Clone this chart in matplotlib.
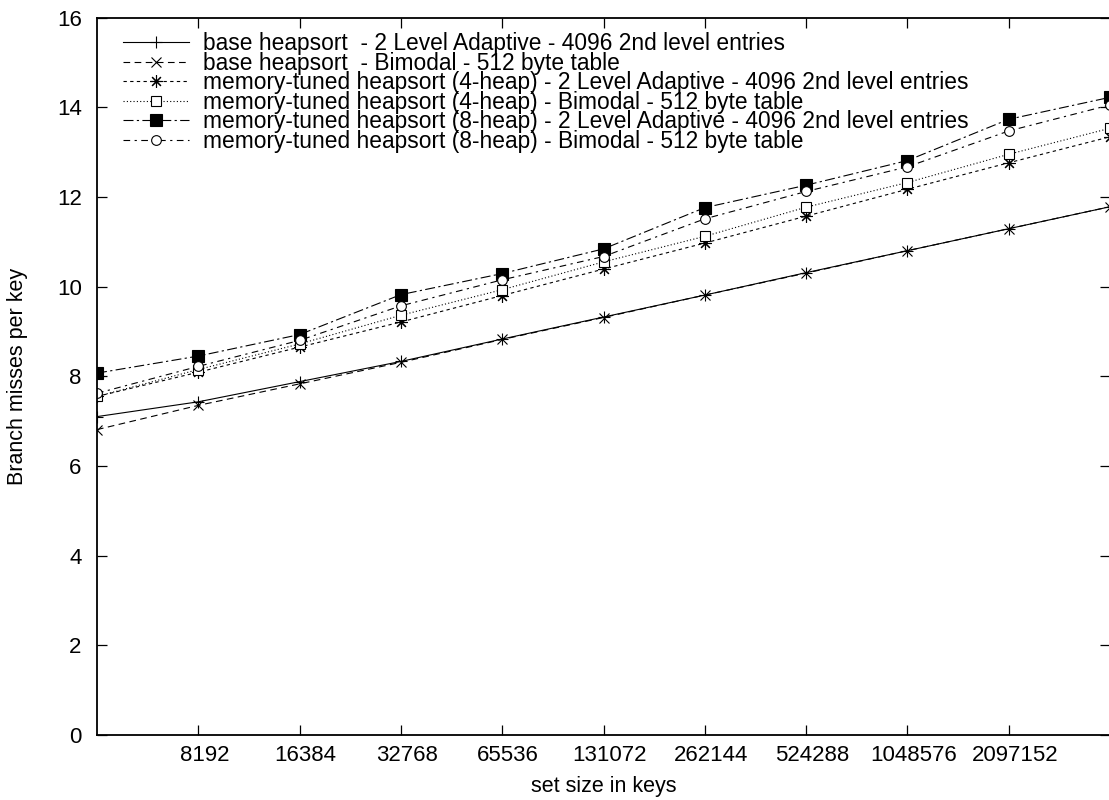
import matplotlib
matplotlib.use('Agg')
import matplotlib.pyplot as plt
import matplotlib.transforms as mtransforms
from matplotlib.ticker import FixedLocator, NullLocator, NullFormatter

plt.rcParams['font.family'] = ['Liberation Sans', 'DejaVu Sans']

# set sizes (keys), powers of two from 4096 up to 4M
set_sizes = [4096, 8192, 16384, 32768, 65536, 131072, 262144,
             524288, 1048576, 2097152, 4194304]
tick_sizes = [8192, 16384, 32768, 65536, 131072, 262144,
              524288, 1048576, 2097152]

# branch misses per key for each heapsort / predictor combination
base_2lev = [7.10, 7.43, 7.88, 8.33, 8.83, 9.32, 9.81, 10.31, 10.80, 11.29, 11.78]
base_bimodal = [6.81, 7.35, 7.83, 8.31, 8.82, 9.31, 9.81, 10.30, 10.80, 11.29, 11.78]
heap4_2lev = [7.55, 8.09, 8.65, 9.21, 9.80, 10.39, 10.97, 11.57, 12.17, 12.76, 13.34]
heap4_bimodal = [7.55, 8.15, 8.72, 9.36, 9.93, 10.55, 11.12, 11.77, 12.32, 12.95, 13.53]
heap8_2lev = [8.07, 8.45, 8.93, 9.82, 10.29, 10.84, 11.76, 12.26, 12.81, 13.73, 14.22]
heap8_bimodal = [7.62, 8.22, 8.80, 9.57, 10.15, 10.67, 11.51, 12.12, 12.67, 13.47, 14.05]

labels = [
    'base heapsort  - 2 Level Adaptive - 4096 2nd level entries',
    'base heapsort  - Bimodal - 512 byte table',
    'memory-tuned heapsort (4-heap) - 2 Level Adaptive - 4096 2nd level entries',
    'memory-tuned heapsort (4-heap) - Bimodal - 512 byte table',
    'memory-tuned heapsort (8-heap) - 2 Level Adaptive - 4096 2nd level entries',
    'memory-tuned heapsort (8-heap) - Bimodal - 512 byte table',
]

fig = plt.figure(figsize=(11.09, 8.0), dpi=100)
ax = fig.add_axes([97 / 1109, 65 / 800, 1013 / 1109, 717.5 / 800])

lw = 0.8
ax.plot(set_sizes, base_2lev, color='black', lw=lw, ls='-',
        marker='+', ms=9, mew=0.8, label=labels[0])
ax.plot(set_sizes, base_bimodal, color='black', lw=lw, ls=(0, (6, 4)),
        marker='x', ms=7, mew=0.8, label=labels[1])
ax.plot(set_sizes, heap4_2lev, color='black', lw=lw, ls=(0, (3, 3)),
        marker=(8, 2, 0), ms=9, mew=0.8, label=labels[2])
ax.plot(set_sizes, heap4_bimodal, color='black', lw=lw, ls=(0, (1, 2)),
        marker='s', ms=7, mew=0.8, mfc='white', label=labels[3])
ax.plot(set_sizes, heap8_2lev, color='black', lw=lw, ls=(0, (9, 3, 2, 3)),
        marker='s', ms=8, mew=0.8, mfc='black', label=labels[4])
ax.plot(set_sizes, heap8_bimodal, color='black', lw=lw, ls=(0, (6, 4, 2, 4)),
        marker='o', ms=7, mew=0.8, mfc='white', label=labels[5])

ax.set_xscale('log', base=2)
ax.set_xlim(4096, 4194304)
ax.set_ylim(0, 16)
ax.xaxis.set_major_locator(FixedLocator(tick_sizes))
ax.set_xticklabels([str(v) for v in tick_sizes])
ax.xaxis.set_minor_locator(NullLocator())
ax.xaxis.set_minor_formatter(NullFormatter())
ax.set_yticks(range(0, 17, 2))

ax.tick_params(direction='in', top=True, right=True, length=7.5, width=0.9,
               labelsize=16, colors='black')
ax.tick_params(axis='x', pad=7)
ax.tick_params(axis='y', pad=11)
for sp in ax.spines.values():
    sp.set_linewidth(1.3)

# x tick labels sit a little right of their ticks
shift = mtransforms.ScaledTranslation(6 / 100, 0, fig.dpi_scale_trans)
for lab in ax.get_xticklabels():
    lab.set_transform(lab.get_transform() + shift)

ax.set_xlabel('set size in keys', fontsize=15.5)
ax.xaxis.set_label_coords(0.5, -0.072)
ax.xaxis.label.set_va('center')
ax.set_ylabel('Branch misses per key', fontsize=15.5)
ax.yaxis.set_label_coords(-0.078, 0.5)
ax.yaxis.label.set_va('center')

ax.legend(loc='upper left', bbox_to_anchor=(123 / 1109, 1 - 32 / 800),
          bbox_transform=fig.transFigure, frameon=False, fontsize=16.4,
          handlelength=2.9, handletextpad=0.6, labelspacing=-0.15,
          borderpad=0, borderaxespad=0, markerscale=1.0)

fig.savefig('out.png', dpi=100)
